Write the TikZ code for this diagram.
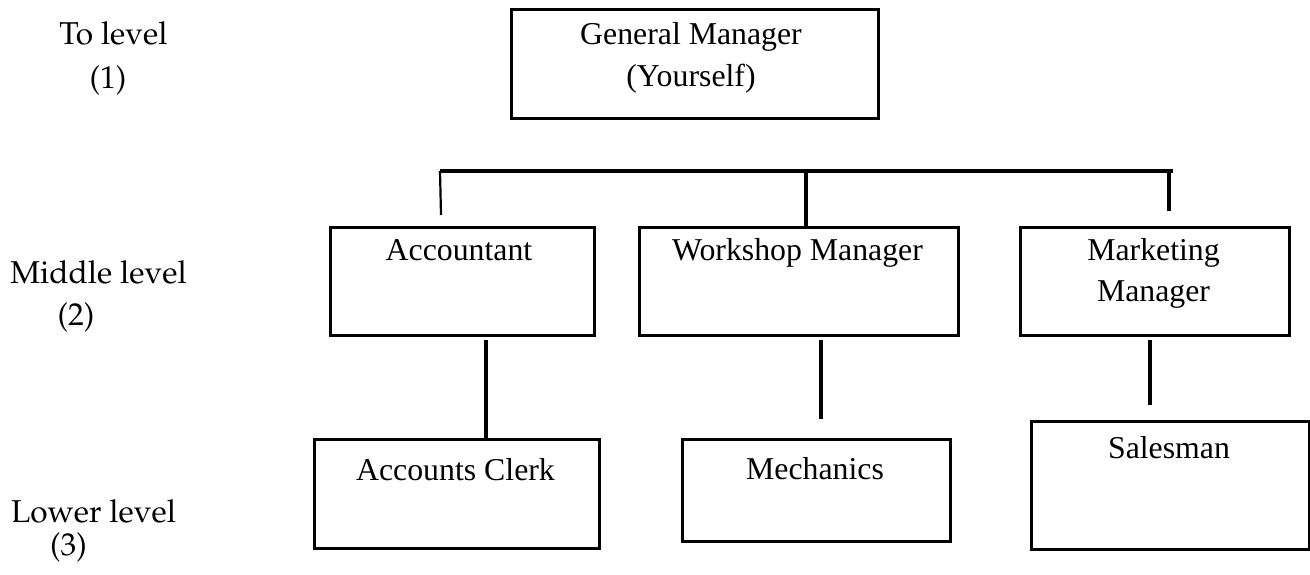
\documentclass[tikz,border=0pt]{standalone}
\usepackage[T1]{fontenc}
\usepackage{fontspec}
\setmainfont{Liberation Serif}
\newcommand{\levelfont}{\usefont{T1}{ppl}{m}{n}}
\begin{document}
\begin{tikzpicture}[x=1pt, y=-1pt,
  box/.style={draw=black, line width=3.3pt, rectangle, inner sep=0pt, anchor=north west},
  boxtext/.style={anchor=base, inner sep=0pt, font=\fontsize{31.8}{42}\selectfont},
  leveltext/.style={anchor=base, inner sep=0pt, font=\fontsize{31.6}{42}\levelfont},
  link/.style={draw=black, line width=3.2pt},
  thinlink/.style={draw=black, line width=2.2pt}]
\useasboundingbox (0,0) rectangle (1310,575);

% level captions on the left
\node[leveltext] (lvA)  at (113.5,45)  {To level};
\node[leveltext] (lvAn) at (108,89)    {(1)};
\node[leveltext] (lvB)  at (98.5,283)  {Middle level};
\node[leveltext] (lvBn) at (76,325)    {(2)};
\node[leveltext] (lvC)  at (93.5,522)  {Lower level};
\node[leveltext] (lvCn) at (68.5,555)  {(3)};

% top level
\node[box, minimum width=367pt, minimum height=109pt] (gm) at (510,8) {};
\node[boxtext] (gmA) at (691,45) {General Manager};
\node[boxtext] (gmB) at (691,87) {(Yourself)};

% middle level
\node[box, minimum width=264pt, minimum height=108pt] (acc) at (329,226) {};
\node[boxtext] (accT) at (459,260) {Accountant};
\node[box, minimum width=319pt, minimum height=108pt] (ws) at (638,226) {};
\node[boxtext] (wsT) at (797.5,260) {Workshop Manager};
\node[box, minimum width=269pt, minimum height=108pt] (mkt) at (1019,226) {};
\node[boxtext] (mktA) at (1153.5,260) {Marketing};
\node[boxtext] (mktB) at (1153.5,301) {Manager};

% lower level
\node[box, minimum width=285pt, minimum height=109pt] (clerk) at (313,438) {};
\node[boxtext] (clerkT) at (455.5,480) {Accounts Clerk};
\node[box, minimum width=268pt, minimum height=102pt] (mech) at (681,438) {};
\node[boxtext] (mechT) at (815,479) {Mechanics};
\node[box, minimum width=278pt, minimum height=128pt] (sales) at (1030,420) {};
\node[boxtext] (salesT) at (1169,458) {Salesman};

% distribution bar and its drops
\coordinate (busL) at (440,171);
\coordinate (busM) at (806,171);
\coordinate (busR) at (1173,171);
\coordinate (busRd) at (1169,171);
\coordinate (dropL) at (441,215);
\coordinate (dropR) at (1169,211);
\draw[link] (busL) -- (busR);
\draw[thinlink] (busL) -- (dropL);
\draw[link] (busM) -- (busM |- ws.north);
\draw[link] (busRd) -- (dropR);

% links from middle to lower level
\coordinate (accOut) at (486,340);
\coordinate (wsOut) at (821,340);
\coordinate (wsEnd) at (821,419);
\coordinate (mktOut) at (1150,340);
\coordinate (mktEnd) at (1150,405);
\draw[link] (accOut) -- (accOut |- clerk.north);
\draw[link] (wsOut) -- (wsEnd);
\draw[link] (mktOut) -- (mktEnd);
\end{tikzpicture}
\end{document}
